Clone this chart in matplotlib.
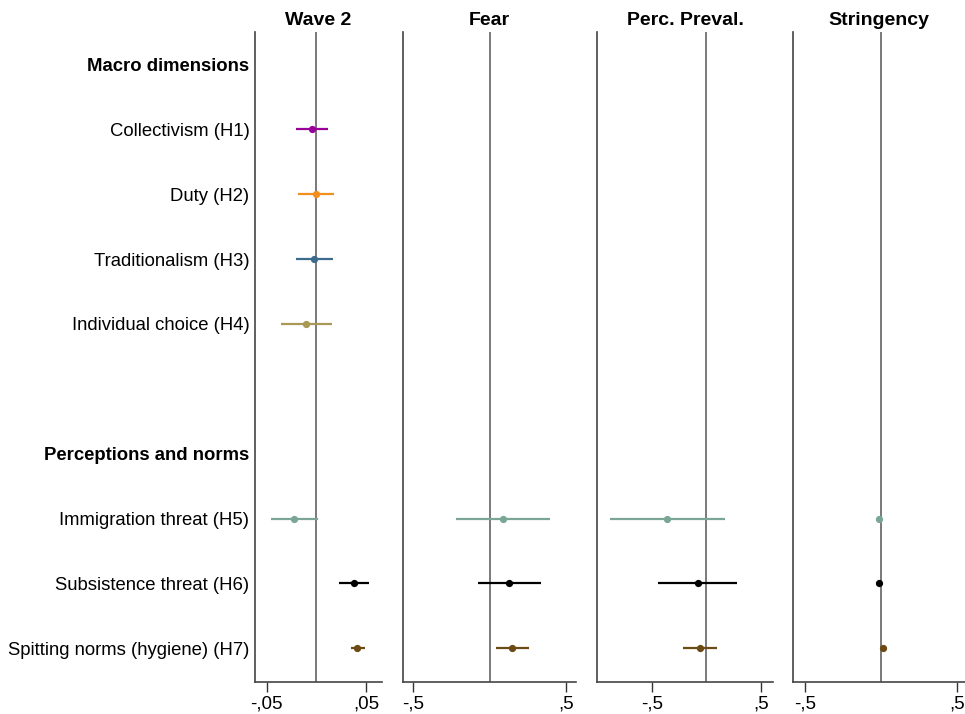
import numpy as np
import matplotlib
matplotlib.use("Agg")
from matplotlib import pyplot as plt

plt.rcParams['font.family'] = ['Liberation Sans', 'DejaVu Sans']

# row labels (top to bottom), headers marked bold
row_labels = ["Macro dimensions", "Collectivism (H1)", "Duty (H2)", "Traditionalism (H3)",
              "Individual choice (H4)", "", "Perceptions and norms",
              "Immigration threat (H5)", "Subsistence threat (H6)", "Spitting norms (hygiene) (H7)"]
header_rows = [0, 6]

panels = ["Wave 2", "Fear", "Perc. Preval.", "Stringency"]

# Wave 2 panel: all seven hypotheses
w2_rows = [1, 2, 3, 4, 7, 8, 9]
w2_coef = [-0.0044, -0.0004, -0.002, -0.0105, -0.0222, 0.0382, 0.0412]
w2_lo = [-0.0205, -0.0182, -0.0205, -0.0356, -0.0454, 0.0231, 0.0345]
w2_hi = [0.0117, 0.0174, 0.0164, 0.0154, 0.0019, 0.0533, 0.049]
w2_col = ["#990099", "#F28E1C", "#3D6B8C", "#A89A55", "#7BA696", "#000000", "#6B4A14"]

# interaction panels: only perceptions rows
int_rows = [7, 8, 9]
int_col = ["#7BA696", "#000000", "#6B4A14"]
fear_coef = [0.091, 0.13, 0.15]
fear_lo = [-0.22, -0.078, 0.04]
fear_hi = [0.40, 0.34, 0.26]
prev_coef = [-0.36, -0.079, -0.055]
prev_lo = [-0.88, -0.44, -0.21]
prev_hi = [0.17, 0.28, 0.10]
str_coef = [-0.014, -0.014, 0.015]
str_lo = [-0.018, -0.018, 0.011]
str_hi = [-0.010, -0.010, 0.019]

ticks_w2 = [-0.05, 0.05]
ticklab_w2 = ["-,05", ",05"]
ticks_int = [-0.5, 0.5]
ticklab_int = ["-,5", ",5"]

W, H = 965, 714
fig = plt.figure(figsize=(W / 100, H / 100), dpi=100)

bounds = [(255, 381.7), (402.7, 575.7), (597.3, 772.7), (793.3, 965)]
xlims = [(-0.0618, 0.0657), (-0.57, 0.566), (-0.997, 0.607), (-0.577, 0.555)]
top_px, bot_px = 32, 682

data = [
    (w2_rows, w2_coef, w2_lo, w2_hi, w2_col, ticks_w2, ticklab_w2),
    (int_rows, fear_coef, fear_lo, fear_hi, int_col, ticks_int, ticklab_int),
    (int_rows, prev_coef, prev_lo, prev_hi, int_col, ticks_int, ticklab_int),
    (int_rows, str_coef, str_lo, str_hi, int_col, ticks_int, ticklab_int),
]

for k, (l, r) in enumerate(bounds):
    ax = fig.add_axes([l / W, 1 - bot_px / H, (r - l) / W, (bot_px - top_px) / H])
    rows, coef, lo, hi, cols, tk, tl = data[k]
    ax.axvline(0, color="#555555", lw=1.1, zorder=1)
    for y, c, a, b, col in zip(rows, coef, lo, hi, cols):
        ax.plot([a, b], [y, y], color=col, lw=1.6, solid_capstyle="butt", zorder=2)
        ax.plot(c, y, "o", color=col, ms=4.2, zorder=3)
    ax.set_xlim(*xlims[k])
    ax.set_ylim(9.52, -0.5)
    ax.set_xticks(tk)
    ax.set_xticklabels(tl, fontsize=13.5)
    ax.tick_params(axis="x", length=7, width=1, color="#333333", pad=3)
    ax.spines["top"].set_visible(False)
    ax.spines["right"].set_visible(False)
    for s in ["left", "bottom"]:
        ax.spines[s].set_color("#444444")
        ax.spines[s].set_linewidth(1.2)
    ax.set_title(panels[k], fontsize=14, fontweight="bold", pad=5)
    if k == 0:
        ax.set_yticks(range(len(row_labels)))
        ax.set_yticklabels(row_labels, fontsize=13.3)
        ax.tick_params(axis="y", length=0, pad=4)
        for i in header_rows:
            ax.get_yticklabels()[i].set_fontweight("bold")
    else:
        ax.set_yticks([])

fig.savefig("out.png", dpi=100)
